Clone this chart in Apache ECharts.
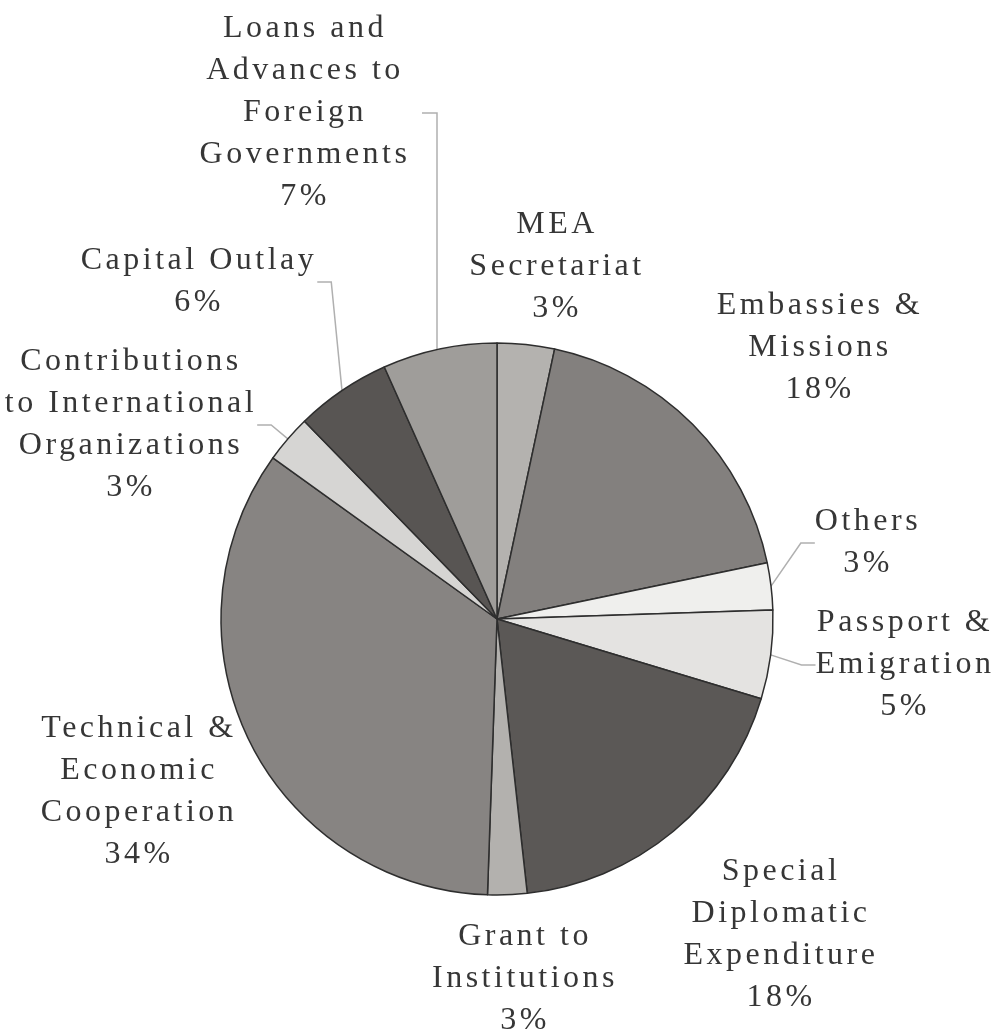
<!DOCTYPE html>
<html>
<head>
<meta charset="utf-8">
<script src="https://cdn.jsdelivr.net/npm/echarts@6/dist/echarts.min.js"></script>
<style>
html,body{margin:0;padding:0;background:#fff;}
#chart{width:999px;height:1036px;}
</style>
</head>
<body>
<div id="chart"></div>
<script>
// ---- data ----
const categories = [
  "MEA\nSecretariat",
  "Embassies &\nMissions",
  "Others",
  "Passport &\nEmigration",
  "Special\nDiplomatic\nExpenditure",
  "Grant to\nInstitutions",
  "Technical &\nEconomic\nCooperation",
  "Contributions\nto International\nOrganizations",
  "Capital Outlay",
  "Loans and\nAdvances to\nForeign\nGovernments"
];
const values = [3.35, 18.4, 2.75, 5.2, 18.6, 2.3, 34.4, 2.8, 5.6, 6.7];
const percentLabels = ["3%", "18%", "3%", "5%", "18%", "3%", "34%", "3%", "6%", "7%"];

// ---- styling / layout (not data) ----
const CX = 497, CY = 619, R = 276;
const colors = ["#b4b2af", "#83807e", "#efefed", "#e4e3e1", "#5b5856",
                "#b3b1ae", "#878482", "#d6d5d3", "#585553", "#9f9d9a"];
const hasLeader = [false, false, true, true, false, false, false, true, true, true];
const labelPos = [
  [557, 267], [820, 348], [868, 543], [905, 665], [781, 935],
  [525, 979], [139, 792], [131, 425], [199, 282], [305, 113]
];

// wide letter spacing like the scanned original (canvas letterSpacing)
(function () {
  const proto = CanvasRenderingContext2D.prototype;
  const SP = '3.5px';
  const wrap = name => {
    const orig = proto[name];
    proto[name] = function () {
      const prev = this.letterSpacing;
      this.letterSpacing = SP;
      const r = orig.apply(this, arguments);
      this.letterSpacing = prev;
      return r;
    };
  };
  wrap('fillText'); wrap('strokeText'); wrap('measureText');
})();

// point on the pie's rim straight below/above a given x (for the vertical Loans leader)
function rimY(x) { return CY - Math.sqrt(R * R - (x - CX) * (x - CX)); }

const chart = echarts.init(document.getElementById('chart'));
chart.setOption({
  backgroundColor: '#ffffff',
  animation: false,
  series: [{
    type: 'pie',
    center: [CX, CY],
    radius: R,
    startAngle: 90,
    clockwise: true,
    avoidLabelOverlap: false,
    itemStyle: { borderColor: '#2e2e2e', borderWidth: 1.5 },
    label: {
      show: true,
      position: 'outside',
      fontFamily: '"Liberation Serif", "DejaVu Serif", serif',
      fontSize: 32,
      lineHeight: 42,
      color: '#363636',
      align: 'center',
      formatter: p => categories[p.dataIndex] + '\n' + percentLabels[p.dataIndex]
    },
    labelLine: { show: true, length: 10, length2: 14, lineStyle: { color: '#b0b0b0', width: 1.5 } },
    labelLayout: p => {
      const i = p.dataIndex;
      const o = { x: labelPos[i][0], y: labelPos[i][1], align: 'center', verticalAlign: 'middle' };
      if (i === 9) {
        const lx = 437;
        o.labelLinePoints = [[422, 113], [lx, 113], [lx, rimY(lx) + 2]];
      }
      return o;
    },
    data: categories.map((c, i) => ({
      name: c,
      value: values[i],
      itemStyle: { color: colors[i] },
      labelLine: { show: hasLeader[i] }
    }))
  }]
});
</script>
</body>
</html>
